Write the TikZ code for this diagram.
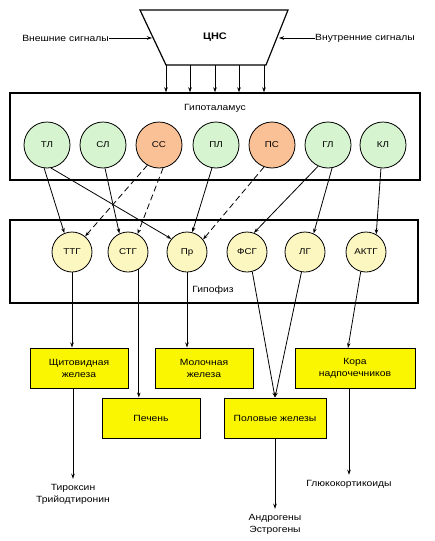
\documentclass[tikz,border=0pt]{standalone}
\usepackage{fontspec}
\setmainfont{Liberation Sans}[FakeStretch=1.15]
\usetikzlibrary{arrows.meta}
\definecolor{gr}{RGB}{214,244,208}
\definecolor{orn}{RGB}{250,192,150}
\definecolor{pyl}{RGB}{252,246,192}
\definecolor{ybox}{RGB}{250,245,0}
\begin{document}
\begin{tikzpicture}[x=1pt,y=-1pt,
 hc/.style={circle, draw, line width=0.8pt, minimum size=46pt, inner sep=0pt, font=\fontsize{8.5}{10}\selectfont},
 pc/.style={circle, draw, line width=0.8pt, minimum size=40pt, inner sep=0pt, fill=pyl, font=\fontsize{8.5}{10}\selectfont},
 bigbox/.style={draw, line width=1.4pt, inner sep=0pt},
 ybx/.style={draw, line width=1pt, fill=ybox, inner sep=0pt, align=center, font=\fontsize{9}{12}\selectfont},
 con/.style={line width=0.8pt, -{Stealth[length=5pt,width=3.5pt]}},
 dcon/.style={con, dash pattern=on 6pt off 3.5pt},
 lbl/.style={font=\fontsize{9}{12}\selectfont, inner sep=0pt, align=center}
]
\useasboundingbox (0,0) rectangle (435,541);
% CNS
\draw[line width=1.2pt] (140,10) -- (288,10) -- (266,65) -- (166,65) -- cycle;
\node[lbl, font=\fontsize{9.5}{11}\selectfont\bfseries] (cns) at (215,37) {ЦНС};
\node[lbl, anchor=east] (ext) at (109,38) {Внешние сигналы};
\node[lbl, anchor=west] (int) at (315,38) {Внутренние сигналы};
\coordinate (lft) at (152,38);
\coordinate (rgt) at (279,38);
\draw[con] (ext.east) -- (lft);
\draw[con] (int.west) -- (rgt);
% boxes
\node[bigbox, minimum width=410pt, minimum height=87pt] (hyp) at (215,136.5) {};
\node[bigbox, minimum width=408pt, minimum height=83pt] (pit) at (214,261.5) {};
\node[lbl] (hyplbl) at (215,108) {Гипоталамус};
\node[lbl] (pitlbl) at (213,290) {Гипофиз};
\foreach \i/\x in {1/166,2/190,3/215,4/239,5/264}{
  \coordinate (c\i) at (\x,65);
  \draw[con] (c\i) -- (c\i |- hyp.north);
}
% hypothalamus circles
\node[hc, fill=gr]  (tl) at (47,145)  {ТЛ};
\node[hc, fill=gr]  (sl) at (103,145) {СЛ};
\node[hc, fill=orn] (ss) at (159,145) {СС};
\node[hc, fill=gr]  (pl) at (216,145) {ПЛ};
\node[hc, fill=orn] (ps) at (272,145) {ПС};
\node[hc, fill=gr]  (gl) at (328,145) {ГЛ};
\node[hc, fill=gr]  (kl) at (383,145) {КЛ};
% pituitary circles
\node[pc] (ttg)  at (72,252)  {ТТГ};
\node[pc] (stg)  at (128,252) {СТГ};
\node[pc] (pr)   at (187,252) {Пр};
\node[pc] (fsg)  at (247,252) {ФСГ};
\node[pc] (lg)   at (305,252) {ЛГ};
\node[pc] (aktg) at (366,252) {АКТГ};
% hypothalamus -> pituitary
\draw[con]  (tl.-97)  -- (ttg.112);
\draw[con]  (tl.-80)  -- (pr.140);
\draw[con]  (sl.-85)  -- (stg.115);
\draw[dcon] (ss.-120) -- (ttg.50);
\draw[dcon] (ss.-80)  -- (stg.62);
\draw[con]  (pl.-100) -- (pr.75);
\draw[dcon] (ps.-110) -- (pr.38);
\draw[con]  (gl.-115) -- (fsg.70);
\draw[con]  (gl.-80)  -- (lg.65);
\draw[con]  (kl.-95)  -- (aktg.60);
% glands
\node[ybx, minimum width=98pt, minimum height=40pt]  (thy) at (79,368)  {Щитовидная\\железа};
\node[ybx, minimum width=98pt, minimum height=40pt]  (milk) at (204,368) {Молочная\\железа};
\node[ybx, minimum width=120pt, minimum height=40pt] (ctx) at (355,368)  {Кора\\надпочечников};
\node[ybx, minimum width=98pt, minimum height=40pt]  (liv) at (151,418)  {Печень};
\node[ybx, minimum width=102pt, minimum height=40pt] (gon) at (275,418)  {Половые железы};
% outputs
\node[lbl] (tyr) at (73,494) {Тироксин\\Трийодтиронин};
\node[lbl] (andr) at (275,524) {Андрогены\\Эстрогены};
\node[lbl] (glu) at (349,484) {Глюкокортикоиды};
% pituitary -> glands
\draw[con] (ttg.south) -- (ttg.south |- thy.north);
\draw[con] (stg.-58) -- (stg.-58 |- liv.north);
\draw[con] (pr.south) -- (pr.south |- milk.north);
\draw[con] (fsg.-75) -- (gon.north);
\draw[con] (lg.-100) -- (gon.north);
\coordinate (ctxin) at (348,348);
\draw[con] (aktg.-105) -- (ctxin);
% glands -> hormones
\draw[con, shorten >=5pt] (tyr.north |- thy.south) -- (tyr.north);
\draw[con, shorten >=5pt] (gon.south) -- (andr.north);
\draw[con, shorten >=5pt] (glu.north |- ctx.south) -- (glu.north);
\end{tikzpicture}
\end{document}
